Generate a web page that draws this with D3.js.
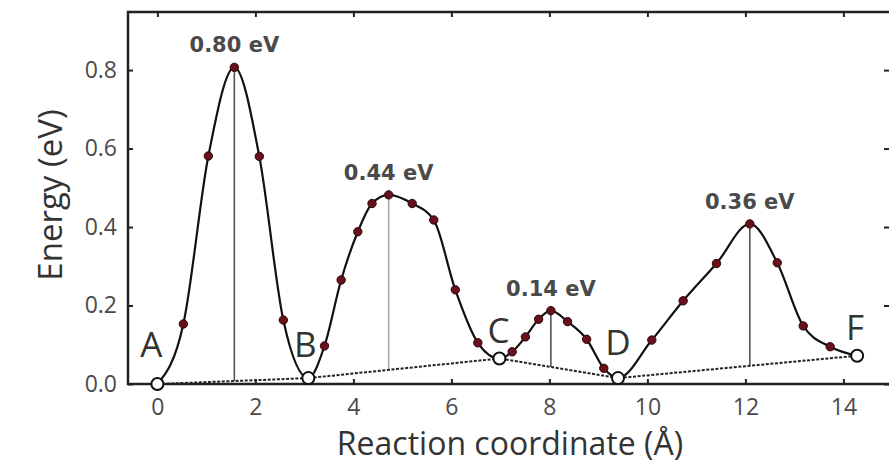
<!DOCTYPE html>
<html>
<head>
<meta charset="utf-8">
<script src="https://cdn.jsdelivr.net/npm/d3@7"></script>
<style>
  body { margin: 0; background: #fff; }
  svg { display: block; }
</style>
</head>
<body>
<script>
// NEB images: reaction coordinate (Å) and energy (eV)
const coords = [0, 0.53, 1.04, 1.57, 2.08, 2.57, 3.08, 3.41, 3.75, 4.09, 4.38, 4.72, 5.20, 5.64, 6.08, 6.54,
  6.98, 7.24, 7.51, 7.78, 8.03, 8.37, 8.76, 9.11, 9.40, 10.09, 10.73, 11.41, 12.09, 12.65, 13.18, 13.73, 14.28]
const energies = [0, 0.153, 0.581, 0.807, 0.58, 0.163, 0.015, 0.097, 0.265, 0.388, 0.46, 0.482, 0.46, 0.418, 0.24, 0.105,
  0.065, 0.082, 0.12, 0.165, 0.187, 0.159, 0.114, 0.04, 0.015, 0.112, 0.212, 0.307, 0.408, 0.309, 0.148, 0.095, 0.072]

// minima (open circles)
const minNames = ["A", "B", "C", "D", "F"]
const minCoords = [0, 3.08, 6.98, 9.40, 14.28]
const minEnergies = [0, 0.015, 0.065, 0.015, 0.072]

// saddle points
const peakCoords = [1.57, 4.72, 8.03, 12.09]
const peakEnergies = [0.807, 0.482, 0.187, 0.408]
const peakLabels = ["0.80 eV", "0.44 eV", "0.14 eV", "0.36 eV"]

const xTicks = [0, 2, 4, 6, 8, 10, 12, 14]
const yTicks = [0, 0.2, 0.4, 0.6, 0.8]

const w = 889
const h = 465
const pLeft = 128, pRight = 891, pTop = 12, pBottom = 384
// nudges for the minimum letters (px)
const nameDx = [-6, -3, -1, 0, -2]
const nameDy = [-27, -21, -15, -23, -16]

const x = d3.scaleLinear().domain([-0.6, 15]).range([pLeft, pLeft + 15.6 * 49])
const y = d3.scaleLinear().domain([0, 0.948]).range([pBottom, pTop])
// straight segments between minima
const base = d3.scaleLinear().domain(minCoords).range(minEnergies)

const svg = d3.select("body")
  .append("svg")
  .attr("width", w)
  .attr("height", h)

// vertical lines at saddle points
svg.selectAll("line.peak")
  .data(peakCoords)
  .enter()
  .append("line")
  .attr("class", "peak")
  .attr("x1", (d) => x(d))
  .attr("x2", (d) => x(d))
  .attr("y1", (d, i) => y(peakEnergies[i]))
  .attr("y2", (d) => y(base(d)))
  .attr("stroke", (d, i) => i === 1 ? "#aaa" : "#555")
  .attr("stroke-width", 1.6)

// dotted baseline through the minima
svg.append("path")
  .datum(minCoords)
  .attr("d", d3.line().x((d) => x(d)).y((d, i) => y(minEnergies[i])))
  .attr("fill", "none")
  .attr("stroke", "#222")
  .attr("stroke-width", 2)
  .attr("stroke-dasharray", "3,1.6")

// energy curve
svg.append("path")
  .datum(coords)
  .attr("d", d3.line().curve(d3.curveMonotoneX).x((d) => x(d)).y((d, i) => y(energies[i])))
  .attr("fill", "none")
  .attr("stroke", "#111")
  .attr("stroke-width", 2.2)

// axes
const axisText = (g) => {
  g.select(".domain").remove()
  g.selectAll(".tick line").attr("stroke", "#222").attr("stroke-width", 2)
  g.selectAll(".tick text")
    .attr("fill", "#4a4a4a")
    .style("font-family", "'Open Sans', sans-serif")
    .style("font-size", "23px")
}

svg.append("g")
  .attr("transform", `translate(0,${pBottom})`)
  .call(d3.axisBottom(x).tickValues(xTicks).tickSizeInner(-5).tickSizeOuter(0).tickPadding(15))
  .call(axisText)

svg.append("g")
  .attr("transform", `translate(0,${pTop})`)
  .call(d3.axisTop(x).tickValues(xTicks).tickSizeInner(-5).tickSizeOuter(0).tickFormat(""))
  .call(axisText)

svg.append("g")
  .attr("transform", `translate(${pLeft},0)`)
  .call(d3.axisLeft(y).tickValues(yTicks).tickSizeInner(-5).tickSizeOuter(0).tickPadding(11).tickFormat(d3.format(".1f")))
  .call(axisText)

svg.append("g")
  .attr("transform", `translate(${pRight - 2},0)`)
  .call(d3.axisRight(y).tickValues(yTicks).tickSizeInner(-5).tickSizeOuter(0).tickFormat(""))
  .call(axisText)

// frame
svg.append("path")
  .attr("d", `M${pRight},${pTop}H${pLeft}V${pBottom}H${pRight}`)
  .attr("fill", "none")
  .attr("stroke", "#222")
  .attr("stroke-width", 2.5)

// images
svg.selectAll("circle.image")
  .data(coords.filter((d) => !minCoords.includes(d)))
  .enter()
  .append("circle")
  .attr("class", "image")
  .attr("cx", (d) => x(d))
  .attr("cy", (d) => y(energies[coords.indexOf(d)]))
  .attr("r", 4.2)
  .attr("fill", "#6a0f1c")
  .attr("stroke", "#2a0a0a")
  .attr("stroke-width", 1)

svg.selectAll("circle.min")
  .data(minCoords)
  .enter()
  .append("circle")
  .attr("class", "min")
  .attr("cx", (d) => x(d))
  .attr("cy", (d, i) => y(minEnergies[i]))
  .attr("r", 6)
  .attr("fill", "#fff")
  .attr("stroke", "#111")
  .attr("stroke-width", 2)

// minimum labels
svg.selectAll("text.name")
  .data(minNames)
  .enter()
  .append("text")
  .attr("class", "name")
  .attr("x", (d, i) => x(minCoords[i]) + nameDx[i])
  .attr("y", (d, i) => y(minEnergies[i]) + nameDy[i])
  .attr("text-anchor", "middle")
  .attr("fill", "#333")
  .style("font-family", "'Open Sans', sans-serif")
  .style("font-size", "35px")
  .text((d) => d)

// barrier labels
svg.selectAll("text.barrier")
  .data(peakLabels)
  .enter()
  .append("text")
  .attr("class", "barrier")
  .attr("x", (d, i) => x(peakCoords[i]))
  .attr("y", (d, i) => y(peakEnergies[i]) - 15)
  .attr("text-anchor", "middle")
  .attr("fill", "#4a4a4a")
  .style("font-family", "'DejaVu Sans', sans-serif")
  .style("font-weight", "bold")
  .style("font-size", "21px")
  .text((d) => d)

// axis titles
svg.append("text")
  .attr("x", 510)
  .attr("y", 455)
  .attr("text-anchor", "middle")
  .attr("fill", "#333")
  .style("font-family", "'Open Sans', sans-serif")
  .style("font-size", "32px")
  .text("Reaction coordinate (Å)")

svg.append("text")
  .attr("transform", "translate(62,195) rotate(-90)")
  .attr("text-anchor", "middle")
  .attr("fill", "#333")
  .style("font-family", "'Open Sans', sans-serif")
  .style("font-size", "33px")
  .text("Energy (eV)")
</script>
</body>
</html>
